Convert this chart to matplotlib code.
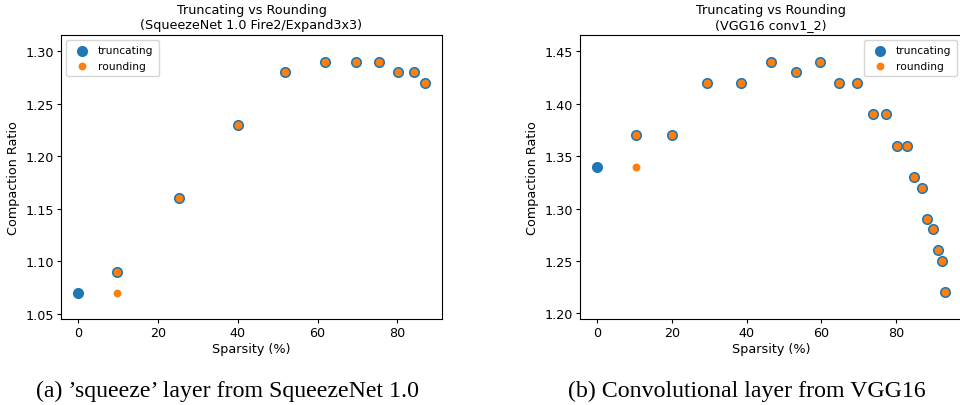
import matplotlib
matplotlib.use("Agg")
import matplotlib.pyplot as plt

# Left: SqueezeNet 1.0 Fire2/Expand3x3
sq_sparsity = [0.0, 9.8, 25.3, 40.0, 51.9, 61.8, 69.6, 75.5, 80.2, 84.1, 86.9]
sq_trunc = [1.07, 1.09, 1.16, 1.23, 1.28, 1.29, 1.29, 1.29, 1.28, 1.28, 1.27]
sq_round_sparsity = [9.8, 9.8, 25.3, 40.0, 51.9, 61.8, 69.6, 75.5, 80.2, 84.1, 86.9]
sq_round = [1.07, 1.09, 1.16, 1.23, 1.28, 1.29, 1.29, 1.29, 1.28, 1.28, 1.27]

# Right: VGG16 conv1_2
vgg_sparsity = [0.0, 10.3, 19.9, 29.4, 38.5, 46.6, 53.3, 59.6, 64.9, 69.7, 74.0,
                77.3, 80.3, 83.0, 85.0, 87.0, 88.5, 89.9, 91.2, 92.3, 93.1]
vgg_trunc = [1.34, 1.37, 1.37, 1.42, 1.42, 1.44, 1.43, 1.44, 1.42, 1.42, 1.39,
             1.39, 1.36, 1.36, 1.33, 1.32, 1.29, 1.28, 1.26, 1.25, 1.22]
vgg_round_sparsity = [10.3, 10.3, 19.9, 29.4, 38.5, 46.6, 53.3, 59.6, 64.9, 69.7, 74.0,
                      77.3, 80.3, 83.0, 85.0, 87.0, 88.5, 89.9, 91.2, 92.3, 93.1]
vgg_round = [1.34, 1.37, 1.37, 1.42, 1.42, 1.44, 1.43, 1.44, 1.42, 1.42, 1.39,
             1.39, 1.36, 1.36, 1.33, 1.32, 1.29, 1.28, 1.26, 1.25, 1.22]

titles = ["Truncating vs Rounding\n(SqueezeNet 1.0 Fire2/Expand3x3)",
          "Truncating vs Rounding\n(VGG16 conv1_2)"]
captions = ["(a) \u2019squeeze\u2019 layer from SqueezeNet 1.0",
            "(b) Convolutional layer from VGG16"]
sq_yticks = [1.05, 1.10, 1.15, 1.20, 1.25, 1.30]
vgg_yticks = [1.20, 1.25, 1.30, 1.35, 1.40, 1.45]
xticks = [0, 20, 40, 60, 80]

FS = 9.2
plt.rcParams['font.size'] = FS
W, H = 960, 406
fig = plt.figure(figsize=(W / 100, H / 100), dpi=100)

def px_axes(x0, y0, x1, y1):
    return fig.add_axes([x0 / W, 1 - y1 / H, (x1 - x0) / W, (y1 - y0) / H])

ax1 = px_axes(60.7, 35.7, 442.3, 320)
ax2 = px_axes(580, 35.7, 962, 320)

blue = '#1f77b4'
orange = '#ff7f0e'

def draw(ax, xs, ys, xr, yr, yticks, ylim, title, legloc):
    ax.scatter(xs, ys, s=64, color=blue, linewidths=0, label='truncating', zorder=2)
    ax.scatter(xr, yr, s=32, color=orange, linewidths=0, label='rounding', zorder=3)
    ax.set_yticks(yticks)
    ax.set_yticklabels([f"{v:.2f}" for v in yticks])
    ax.set_xticks(xticks)
    ax.set_ylim(*ylim)
    ax.set_title(title, fontsize=FS, pad=5)
    ax.set_xlabel("Sparsity (%)", fontsize=FS, labelpad=2)
    ax.set_ylabel("Compaction Ratio", fontsize=FS, labelpad=4)
    ax.tick_params(labelsize=FS, length=3, pad=2)
    ax.legend(loc=legloc, fontsize=FS * 0.833, handletextpad=0.5, borderpad=0.5)

draw(ax1, sq_sparsity, sq_trunc, sq_round_sparsity, sq_round, sq_yticks,
     (1.0452, 1.3158), titles[0], 'upper left')
draw(ax2, vgg_sparsity, vgg_trunc, vgg_round_sparsity, vgg_round, vgg_yticks,
     (1.1946, 1.4658), titles[1], 'upper right')

fig.text(227 / W, 1 - 391 / H, captions[0], family='Liberation Serif',
         fontsize=17.2, ha='center', va='center')
fig.text(747 / W, 1 - 391 / H, captions[1], family='Liberation Serif',
         fontsize=17.2, ha='center', va='center')

fig.savefig("out.png", dpi=100)
